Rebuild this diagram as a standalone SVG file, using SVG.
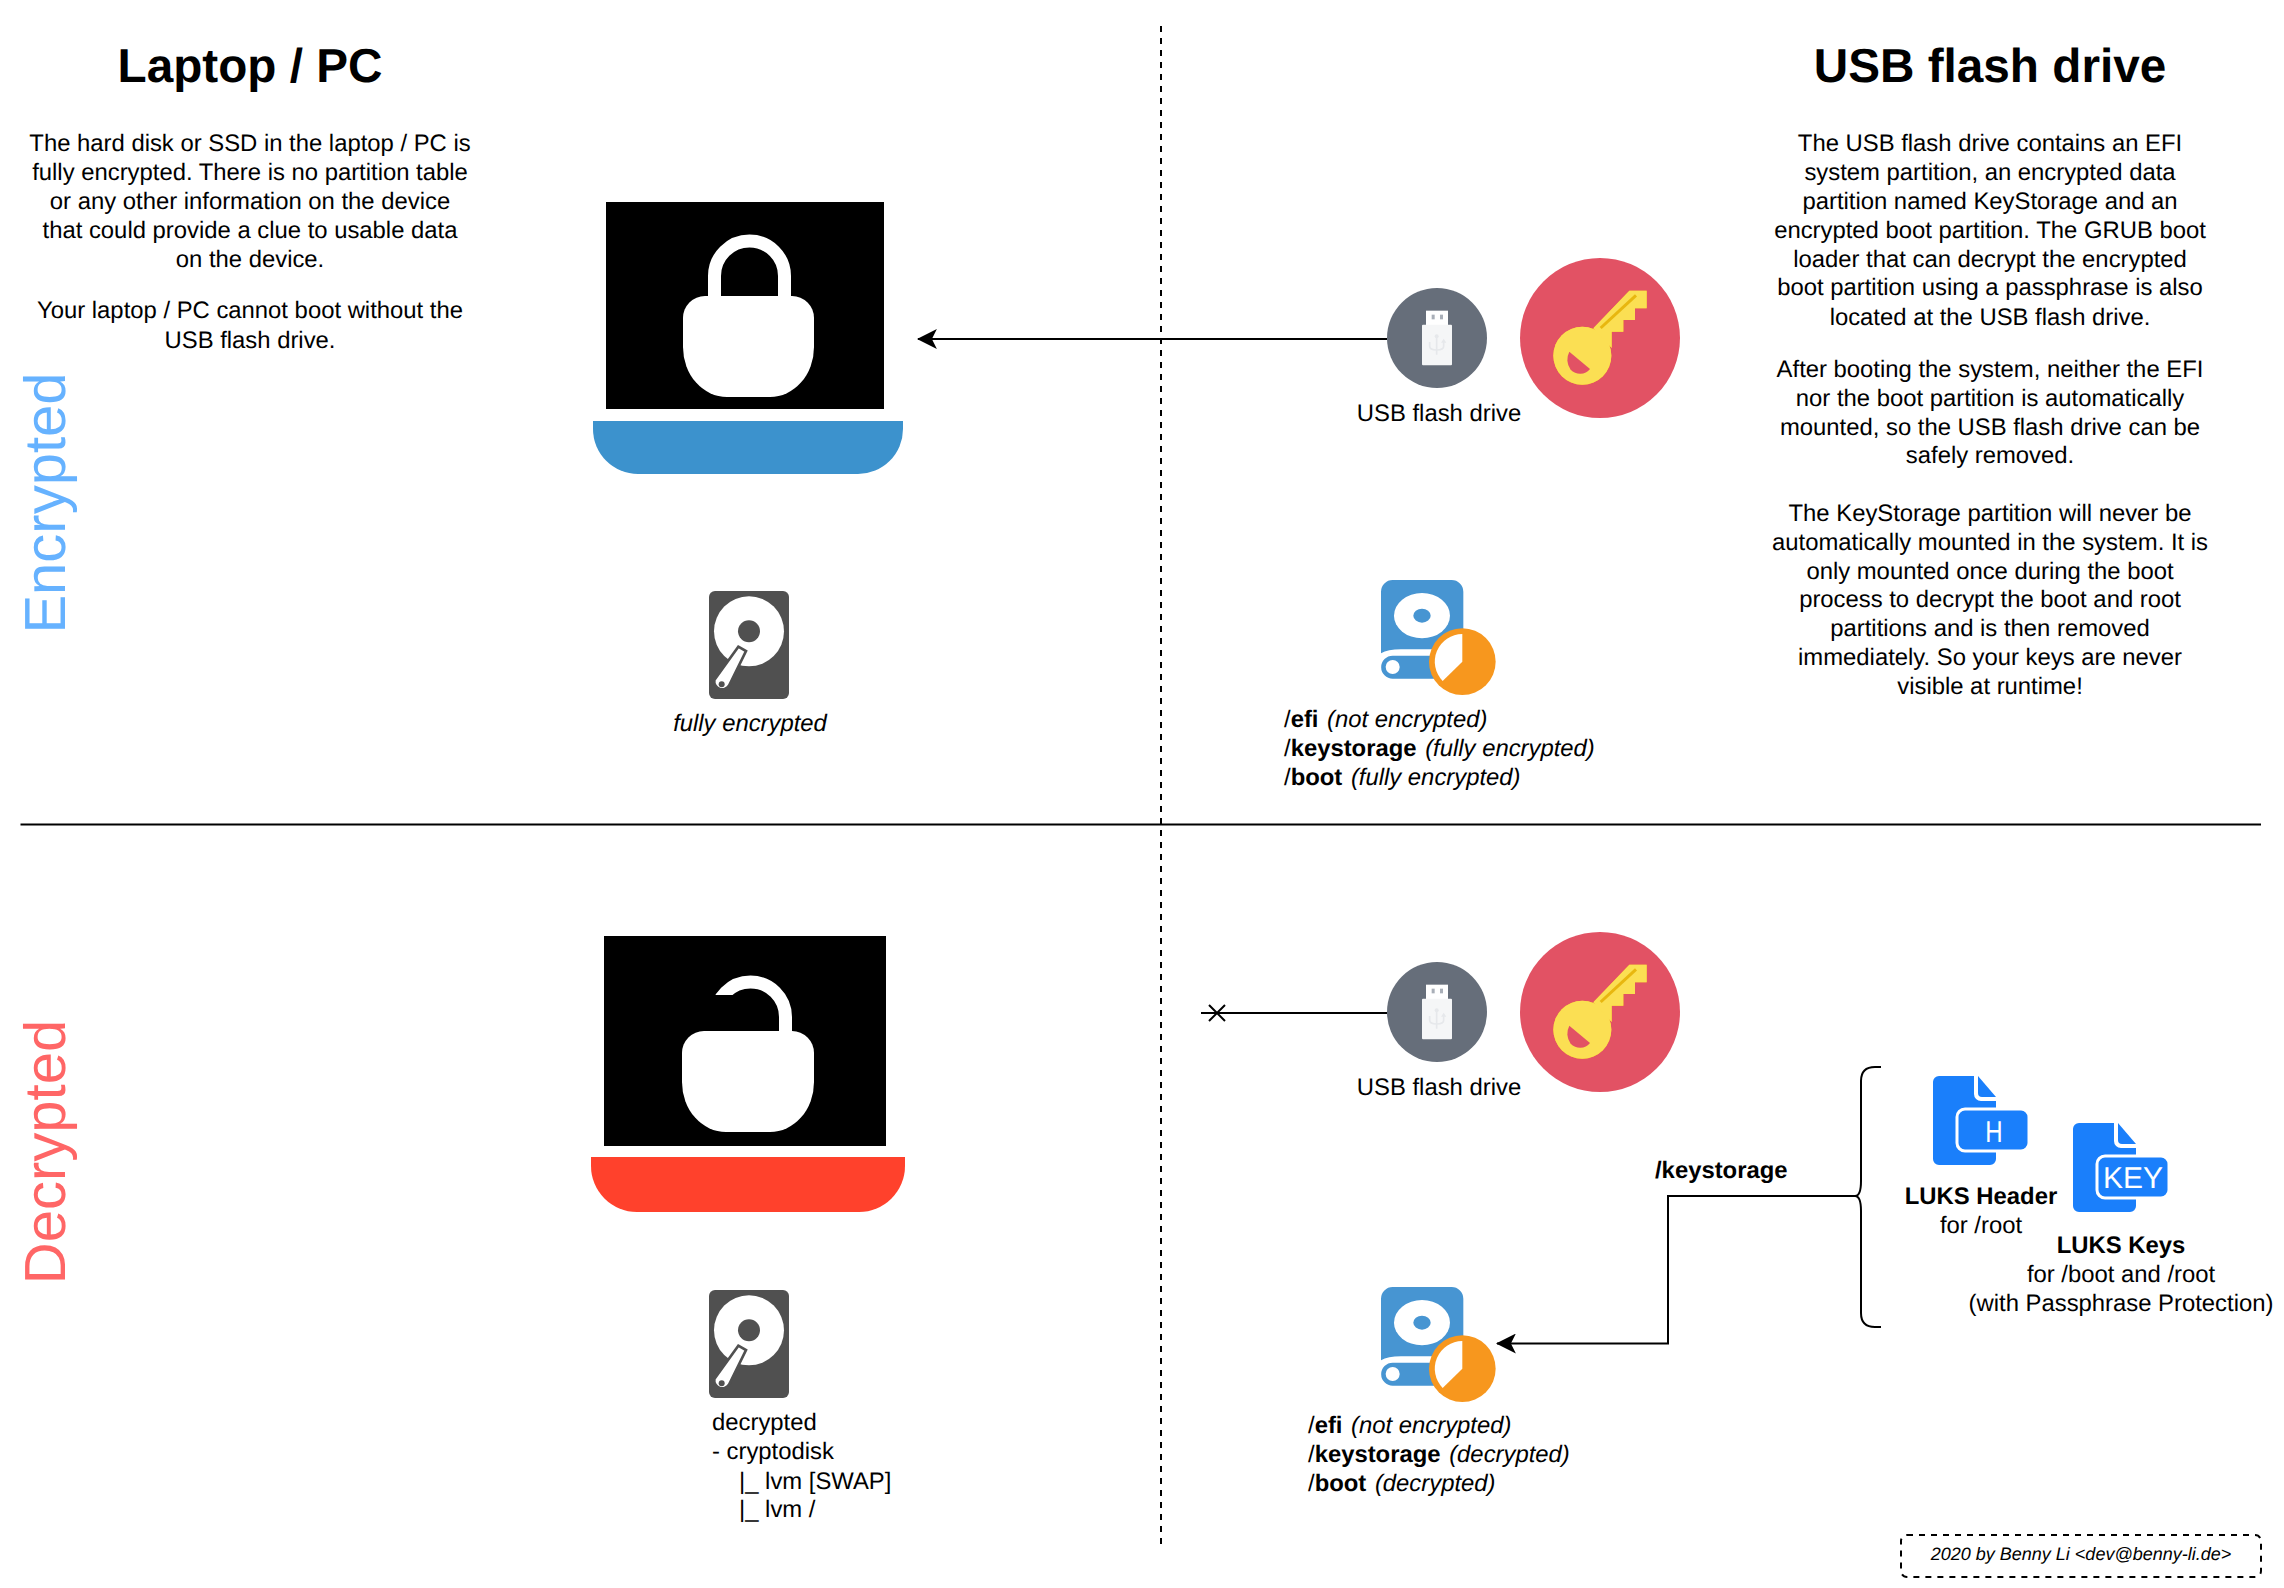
<svg xmlns="http://www.w3.org/2000/svg" width="2284" height="1588" viewBox="0 0 2284 1588">
<style>
text{font-family:"Liberation Sans",Arial,sans-serif;font-size:23.85px;fill:#000;text-rendering:geometricPrecision}
.c{text-anchor:middle}
.b{font-weight:bold}
.i{font-style:italic}
.t{font-size:47.7px;font-weight:bold;text-anchor:middle}
.side{font-size:58px;text-anchor:middle}
.ln{fill:none;stroke:#000;stroke-width:2}
.tag{fill:#fff;text-anchor:middle}
</style>
<defs>
<marker id="arrow" markerUnits="userSpaceOnUse" markerWidth="20" markerHeight="20" viewBox="0 0 18 18" refX="17" refY="9" orient="auto"><path d="M18,9 L0,0 L4.500,9 L0,18 Z" fill="#000"/></marker>
<g id="usb" transform="scale(.3333)"><circle cx="0" cy="0" r="150" fill="#666E7A"/><rect x="-33" y="-82" width="66" height="44" fill="#fff"/><rect x="-16" y="-70" width="9" height="14" fill="#A9AFB8"/><rect x="9" y="-70" width="9" height="14" fill="#A9AFB8"/><rect x="-45" y="-40" width="90" height="122" rx="3" fill="#F5F6F7"/><path d="M-1,-5 V50 M-22,12 V25 Q-22,36 -1,36 Q20,36 20,25 V12" fill="none" stroke="#E6E8EB" stroke-width="5"/><circle cx="-1" cy="-5" r="6" fill="#E6E8EB"/><path d="M20,2 l8,12 h-16 Z" fill="#E6E8EB"/></g>
<clipPath id="keylight"><path d="M-300,-300 H320 V-180 L-253,393 L-300,393 Z"/></clipPath>
<g id="key" transform="scale(.3333)"><circle cx="0" cy="0" r="240" fill="#E25264"/>
<g fill="#FAC91E"><circle cx="-53" cy="53" r="87"/><path d="M88,-142 H140 V-89 H105 V-54 H70 V-19 H35 V30 L-20,-29 Z"/></g>
<g fill="#FBDF53" clip-path="url(#keylight)"><circle cx="-53" cy="53" r="87"/><path d="M88,-142 H140 V-89 H105 V-54 H70 V-19 H35 V30 L-20,-29 Z"/></g>
<path d="M108,-128 L2,-30" stroke="#E8B70F" stroke-width="9" fill="none"/>
<path d="M-92,41 L-30,93 A38,38 0 0 1 -88,95 A50,50 0 0 1 -92,41 Z" fill="#E25264"/></g>
<g id="hdd" transform="scale(.3333)"><rect x="0" y="0" width="240" height="324" rx="18" fill="#505050"/><circle cx="120" cy="121" r="105" fill="#fff"/><circle cx="120" cy="121" r="33" fill="#505050"/><path d="M88,167 L111,180 L61,282 A24,24 0 0 1 16,267 Z" fill="#fff" stroke="#505050" stroke-width="8"/><circle cx="38" cy="280" r="9" fill="#505050"/></g>
<g id="disk" transform="scale(.3333)"><path d="M0,220 V35 A35,35 0 0 1 35,0 H212 A35,35 0 0 1 247,35 V208 H60 Q20,208 0,220 Z" fill="#4795D2"/><path d="M35,227 H200 V296 H35 A34.500,34.500 0 0 1 35,227 Z" fill="#4795D2"/><ellipse cx="123" cy="107" rx="84" ry="68" fill="#fff"/><ellipse cx="123" cy="107" rx="26" ry="21" fill="#4795D2"/><circle cx="35" cy="261" r="21" fill="#fff"/><circle cx="244" cy="245" r="100" fill="#F7971E"/><path d="M244,245 V162 A83,83 0 0 0 185,303 Z" fill="#fff"/></g>
<g id="doc"><path d="M0,6 A6,6 0 0 1 6,0 H41 V18 A7,7 0 0 0 48,25 H63 V83 A6,6 0 0 1 57,89 H6 A6,6 0 0 1 0,83 Z" fill="#1A7FFB"/><path d="M45,0 L63,21 H49 A4,4 0 0 1 45,17 Z" fill="#1A7FFB"/><rect x="24" y="33" width="72" height="42" rx="8" fill="#1A7FFB" stroke="#fff" stroke-width="3"/></g>
</defs>

<g id="connectors">
<path class="ln" d="M1161,26 V1544" stroke-dasharray="6 6"/>
<path class="ln" d="M20.500,824.500 H2261"/>
<path class="ln" d="M1387,339 H918" marker-end="url(#arrow)"/>
<path class="ln" d="M1387,1013 H1201"/>
<path class="ln" d="M1209,1005 L1225,1021 M1225,1005 L1209,1021"/>
<path class="ln" d="M1856,1196 H1668 V1343.500 H1497" marker-end="url(#arrow)"/>
<path class="ln" d="M1881,1067 H1875 Q1861,1067 1861,1081 V1181 Q1861,1196 1855,1196 Q1861,1196 1861,1211 V1313 Q1861,1327 1875,1327 H1881"/>
</g>

<g id="heading-laptop"><text class="t" x="250" y="82">Laptop / PC</text></g>
<g id="heading-usb"><text class="t" x="1990" y="82">USB flash drive</text></g>
<g id="label-encrypted"><text class="side" transform="translate(65,503) rotate(-90)" style="fill:#66B2FF">Encrypted</text></g>
<g id="label-decrypted"><text class="side" transform="translate(65,1152) rotate(-90)" style="fill:#FF6666">Decrypted</text></g>

<g id="text-laptop">
<text class="c" x="250" y="151">The hard disk or SSD in the laptop / PC is</text>
<text class="c" x="250" y="180">fully encrypted. There is no partition table</text>
<text class="c" x="250" y="209">or any other information on the device</text>
<text class="c" x="250" y="238">that could provide a clue to usable data</text>
<text class="c" x="250" y="267">on the device.</text>
<text class="c" x="250" y="318">Your laptop / PC cannot boot without the</text>
<text class="c" x="250" y="348">USB flash drive.</text>
</g>

<g id="text-usb">
<text class="c" x="1990" y="151">The USB flash drive contains an EFI</text>
<text class="c" x="1990" y="180">system partition, an encrypted data</text>
<text class="c" x="1990" y="209">partition named KeyStorage and an</text>
<text class="c" x="1990" y="238">encrypted boot partition. The GRUB boot</text>
<text class="c" x="1990" y="267">loader that can decrypt the encrypted</text>
<text class="c" x="1990" y="295">boot partition using a passphrase is also</text>
<text class="c" x="1990" y="325">located at the USB flash drive.</text>
<text class="c" x="1990" y="377">After booting the system, neither the EFI</text>
<text class="c" x="1990" y="406">nor the boot partition is automatically</text>
<text class="c" x="1990" y="435">mounted, so the USB flash drive can be</text>
<text class="c" x="1990" y="463">safely removed.</text>
<text class="c" x="1990" y="521">The KeyStorage partition will never be</text>
<text class="c" x="1990" y="550">automatically mounted in the system. It is</text>
<text class="c" x="1990" y="579">only mounted once during the boot</text>
<text class="c" x="1990" y="607">process to decrypt the boot and root</text>
<text class="c" x="1990" y="636">partitions and is then removed</text>
<text class="c" x="1990" y="665">immediately. So your keys are never</text>
<text class="c" x="1990" y="694">visible at runtime!</text>
</g>

<g id="laptop-encrypted">
<rect x="606" y="202" width="278" height="207" fill="#000"/>
<path d="M593,421 H903 V429 A45,45 0 0 1 858,474 H638 A45,45 0 0 1 593,429 Z" fill="#3C92CD"/>
<path d="M714.500,297 V276 A35,35 0 0 1 784.500,276 V297" fill="none" stroke="#fff" stroke-width="13"/>
<path d="M683,318 A22,22 0 0 1 705,296 H792 A22,22 0 0 1 814,318 V347 A44,50 0 0 1 770,397 H727 A44,50 0 0 1 683,347 Z" fill="#fff"/>
</g>

<g id="laptop-decrypted">
<rect x="604" y="936" width="282" height="210" fill="#000"/>
<path d="M591,1157 H905 V1166 A46,46 0 0 1 859,1212 H637 A46,46 0 0 1 591,1166 Z" fill="#FF412C"/>
<path d="M785.500,1032 V1017 A35,35 0 0 0 715.500,1017 V1032" fill="none" stroke="#fff" stroke-width="13"/>
<rect x="707" y="995" width="30" height="36" fill="#000"/>
<path d="M682,1053 A22,22 0 0 1 704,1031 H792 A22,22 0 0 1 814,1053 V1082 A44,50 0 0 1 770,1132 H726 A44,50 0 0 1 682,1082 Z" fill="#fff"/>
</g>

<g id="hdd-encrypted"><use href="#hdd" transform="translate(709,591)"/><text class="c i" x="750" y="731">fully encrypted</text></g>
<g id="hdd-decrypted"><use href="#hdd" transform="translate(709,1290)"/>
<text x="712" y="1430">decrypted</text><text x="712" y="1459">- cryptodisk</text><text x="739" y="1488.500">|_ lvm [SWAP]</text><text x="739" y="1517">|_ lvm /</text></g>

<g id="usb-encrypted"><use href="#usb" transform="translate(1437,338)"/><text class="c" x="1439" y="421">USB flash drive</text></g>
<g id="key-encrypted"><use href="#key" transform="translate(1600,338)"/></g>
<g id="usb-decrypted"><use href="#usb" transform="translate(1437,1012)"/><text class="c" x="1439" y="1095">USB flash drive</text></g>
<g id="key-decrypted"><use href="#key" transform="translate(1600,1012)"/></g>

<g id="disk-encrypted"><use href="#disk" transform="translate(1381,580)"/>
<text x="1284" y="727">/<tspan class="b">efi</tspan> <tspan class="i" dx="2">(not encrypted)</tspan></text>
<text x="1284" y="756">/<tspan class="b">keystorage</tspan> <tspan class="i" dx="2">(fully encrypted)</tspan></text>
<text x="1284" y="785">/<tspan class="b">boot</tspan> <tspan class="i" dx="2">(fully encrypted)</tspan></text></g>

<g id="disk-decrypted"><use href="#disk" transform="translate(1381,1287)"/>
<text x="1308" y="1433">/<tspan class="b">efi</tspan> <tspan class="i" dx="2">(not encrypted)</tspan></text>
<text x="1308" y="1462">/<tspan class="b">keystorage</tspan> <tspan class="i" dx="2">(decrypted)</tspan></text>
<text x="1308" y="1491">/<tspan class="b">boot</tspan> <tspan class="i" dx="2">(decrypted)</tspan></text></g>

<g id="edge-label-keystorage"><text class="b" x="1655" y="1178">/keystorage</text></g>

<g id="luks-header"><use href="#doc" transform="translate(1933,1076)"/><text class="tag" transform="translate(1994,1142) scale(.8,1)" style="font-size:30px;fill:#fff">H</text>
<text class="c b" x="1981" y="1204">LUKS Header</text><text class="c" x="1981" y="1233">for /root</text></g>
<g id="luks-keys"><use href="#doc" transform="translate(2073,1123)"/><text class="tag" x="2133" y="1188" style="font-size:30px;fill:#fff">KEY</text>
<text class="c b" x="2121" y="1253">LUKS Keys</text><text class="c" x="2121" y="1282">for /boot and /root</text><text class="c" x="2121" y="1311">(with Passphrase Protection)</text></g>

<g id="credit"><rect x="1901" y="1535" width="360" height="42" rx="6" fill="none" stroke="#000" stroke-width="2" stroke-dasharray="6 6"/><text class="c i" x="2081" y="1560" style="font-size:18px">2020 by Benny Li &lt;dev@benny-li.de&gt;</text></g>
</svg>
